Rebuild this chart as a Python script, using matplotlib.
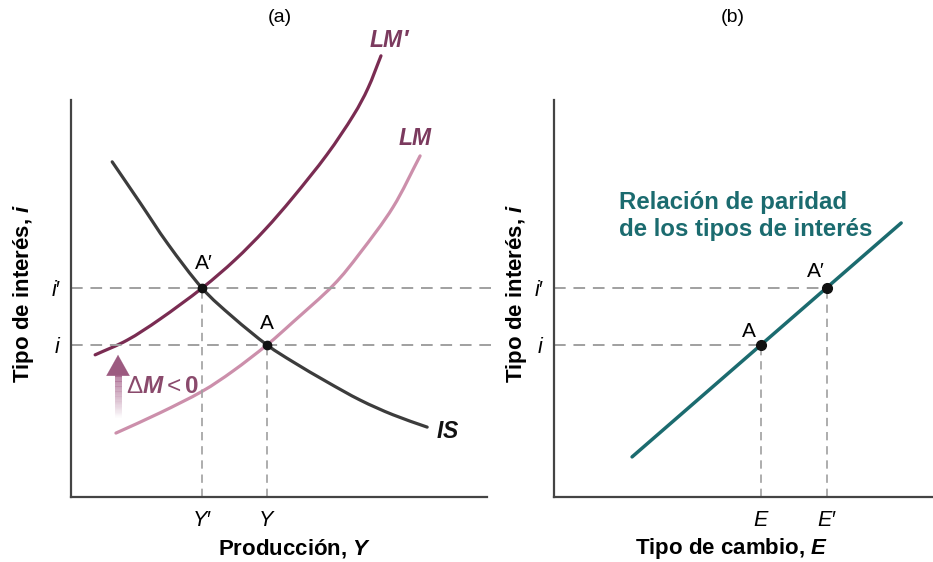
import numpy as np
import matplotlib
matplotlib.use("Agg")
import matplotlib.pyplot as plt
from matplotlib.collections import LineCollection
from matplotlib.path import Path
from matplotlib.patches import PathPatch

plt.rcParams['font.family'] = ['Liberation Sans', 'DejaVu Sans']
plt.rcParams['mathtext.fontset'] = 'custom'
plt.rcParams['mathtext.rm'] = 'Liberation Sans'
plt.rcParams['mathtext.it'] = 'Liberation Sans:italic'
plt.rcParams['mathtext.bf'] = 'Liberation Sans:bold'
plt.rcParams['mathtext.bfit'] = 'Liberation Sans:bold:italic'

# ---- data (arbitrary units) ----
# panel (a): IS-LM
is_y = [0.99, 1.66, 2.33, 3.15, 3.89, 4.71, 5.34, 6.15, 6.95, 7.74, 8.56]
is_i = [8.44, 7.41, 6.37, 5.26, 4.53, 3.83, 3.40, 2.90, 2.44, 2.07, 1.76]

lm2_y = [0.58, 1.35, 2.14, 3.15, 3.94, 4.66, 5.34, 6.15, 6.78, 7.14, 7.45]
lm2_i = [3.58, 3.95, 4.48, 5.26, 5.97, 6.73, 7.55, 8.62, 9.60, 10.30, 11.11]

lm_y = [1.08, 2.14, 3.15, 3.89, 4.71, 5.34, 6.30, 6.95, 7.74, 8.39]
lm_i = [1.61, 2.12, 2.66, 3.17, 3.83, 4.41, 5.33, 6.15, 7.30, 8.59]

Y_A, i_A = 4.71, 3.83      # A
Y_A2, i_A2 = 3.15, 5.26    # A'

# panel (b): interest parity
par_E = [2.06, 9.16]
par_i = [1.01, 6.90]
E_A, E_A2 = 5.46, 7.20

dark = '#444444'
grid = '#a0a0a0'
lm2_col = '#7a2c52'
lm_col = '#cc8fab'
lab_col = '#7b3a5e'
is_col = '#3c3c3c'
teal = '#1b6b6f'


def smooth_curve(ax, xs, ys, **kw):
    # Catmull-Rom style bezier path through the read points
    p = np.column_stack([xs, ys])
    ext = np.vstack([2 * p[0] - p[1], p, 2 * p[-1] - p[-2]])
    verts = [p[0]]
    codes = [Path.MOVETO]
    for k in range(1, len(ext) - 2):
        c1 = ext[k] + (ext[k + 1] - ext[k - 1]) / 6
        c2 = ext[k + 1] - (ext[k + 2] - ext[k]) / 6
        verts += [c1, c2, ext[k + 1]]
        codes += [Path.CURVE4] * 3
    ax.add_patch(PathPatch(Path(verts, codes), fill=False, capstyle='round', **kw))


fig = plt.figure(figsize=(9.33, 5.62), dpi=100)
W, H = 933, 562
ax1 = fig.add_axes([71 / W, 65 / H, 424 / W, 467 / H])
ax2 = fig.add_axes([554 / W, 65 / H, 379 / W, 467 / H])

for ax, xmax in ((ax1, 10.19), (ax2, 10.0)):
    ax.set_xlim(0, xmax)
    ax.set_ylim(0, 11.76)
    ax.spines['top'].set_visible(False)
    ax.spines['right'].set_visible(False)
    for s in ('left', 'bottom'):
        ax.spines[s].set_color(dark)
        ax.spines[s].set_linewidth(1.6)
    ax.spines['left'].set_bounds(0, 10)
    ax.tick_params(length=0, labelsize=15.5)
    ax.tick_params(axis='x', pad=9)
    ax.tick_params(axis='y', pad=7)
ax1.spines['bottom'].set_bounds(0, 10)

# ---- panel (a) ----
ax1.hlines([i_A2, i_A], 0, 10.15, colors=grid, lw=1.4, linestyles=(0, (6, 4)))
ax1.vlines([Y_A2, Y_A], 0, [i_A2, i_A], colors=grid, lw=1.2, linestyles=(0, (5, 3.5)))

smooth_curve(ax1, lm_y, lm_i, edgecolor=lm_col, lw=2.3)
smooth_curve(ax1, lm2_y, lm2_i, edgecolor=lm2_col, lw=2.3, clip_on=False)
smooth_curve(ax1, is_y, is_i, edgecolor=is_col, lw=2.3)
ax1.plot([Y_A, Y_A2], [i_A, i_A2], 'o', color='#111111', ms=6, zorder=3)

ax1.text(7.67, 11.49, r"$\mathbfit{LM}$′", color=lab_col, fontsize=16.5,
         fontweight='bold', style='italic', ha='center', va='center')
ax1.text(8.29, 9.04, r"$\mathbfit{LM}$", color=lab_col, fontsize=16.5, ha='center', va='center')
ax1.text(9.06, 1.66, r"$\mathbfit{IS}$", color='#111111', fontsize=16.5, ha='center', va='center')
ax1.text(3.20, 5.89, "A′", fontsize=15, ha='center', va='center')
ax1.text(4.71, 4.38, "A", fontsize=15, ha='center', va='center')

# arrow ΔM < 0 with fading shaft
ax_x, y0, y1, ytip = 1.13, 1.99, 3.22, 3.58
ys = np.linspace(y0, y1, 40)
segs = [[(ax_x, ys[k]), (ax_x, ys[k + 1])] for k in range(len(ys) - 1)]
cols = [(0.62, 0.33, 0.5, a) for a in np.linspace(0.0, 1.0, len(segs))]
ax1.add_collection(LineCollection(segs, colors=cols, linewidths=5, capstyle='butt'))
ax1.annotate('', xy=(ax_x, ytip), xytext=(ax_x, y1 - 0.05),
             arrowprops=dict(arrowstyle='-|>,head_length=0.75,head_width=0.42',
                             color='#9c5a80', lw=0.1, mutation_scale=20,
                             shrinkA=0, shrinkB=0))
ax1.text(1.33, 2.78, r"$\Delta\mathbfit{M} < \mathbf{0}$", color='#8a4a6c',
         fontsize=17.5, ha='left', va='center')

ax1.set_xticks([Y_A2, Y_A], ["$Y$′", "$Y$"])
ax1.set_yticks([i_A, i_A2], ["$i$", "$i$′"])
ax1.text(0.528, -0.111, r"Producción, $\mathbfit{Y}$", transform=ax1.transAxes,
         fontsize=16, fontweight='bold', ha='center', va='center')
ax1.text(-0.112, 0.435, r"Tipo de interés, $\mathbfit{i}$", transform=ax1.transAxes,
         fontsize=16, fontweight='bold', ha='center', va='center', rotation=90)

# ---- panel (b) ----
ax2.hlines([i_A, i_A2], 0, [E_A, E_A2], colors=grid, lw=1.4, linestyles=(0, (6, 4)))
ax2.vlines([E_A, E_A2], 0, [i_A, i_A2], colors=grid, lw=1.2, linestyles=(0, (5, 3.5)))
ax2.plot(par_E, par_i, color=teal, lw=2.5, solid_capstyle='round')
ax2.plot([E_A, E_A2], [i_A, i_A2], 'o', color='#111111', ms=7)
ax2.text(5.15, 4.18, "A", fontsize=15, ha='center', va='center')
ax2.text(6.91, 5.67, "A′", fontsize=15, ha='center', va='center')
ax2.text(1.72, 7.08, "Relación de paridad\nde los tipos de interés", color=teal,
         fontsize=17.3, fontweight='bold', ha='left', va='center', linespacing=1.25)

ax2.set_xticks([E_A, E_A2], ["$E$", "$E$′"])
ax2.set_yticks([i_A, i_A2], ["$i$", "$i$′"])
ax2.text(0.467, -0.111, r"Tipo de cambio, $\mathbfit{E}$", transform=ax2.transAxes,
         fontsize=16, fontweight='bold', ha='center', va='center')
ax2.text(-0.100, 0.435, r"Tipo de interés, $\mathbfit{i}$", transform=ax2.transAxes,
         fontsize=16, fontweight='bold', ha='center', va='center', rotation=90)

fig.text(280 / W, 1 - 18 / H, "(a)", fontsize=14, ha='center', va='center')
fig.text(733 / W, 1 - 18 / H, "(b)", fontsize=14, ha='center', va='center')

fig.savefig("out.png", dpi=100, facecolor='white')
